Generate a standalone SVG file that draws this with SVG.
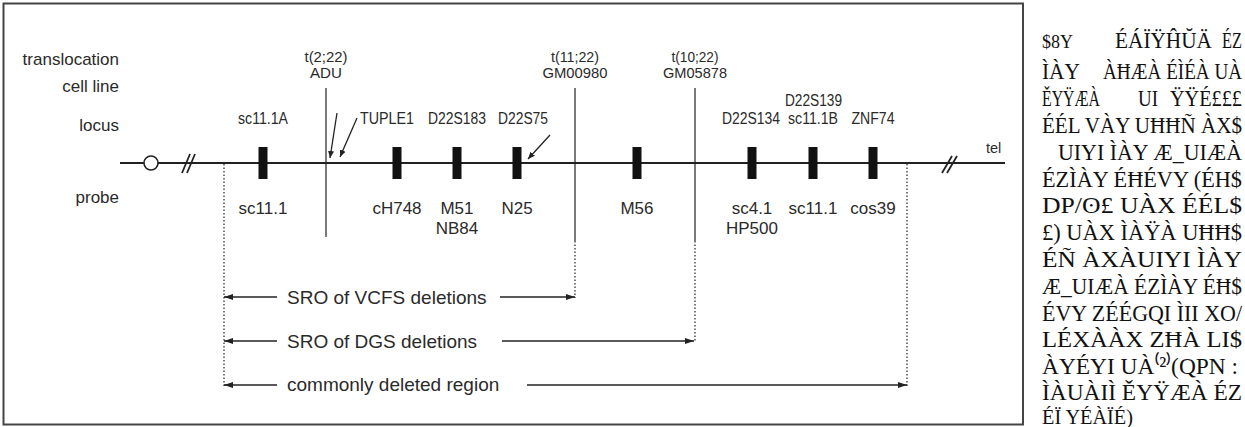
<svg xmlns="http://www.w3.org/2000/svg" width="1245" height="427" viewBox="0 0 1245 427">
<style>
text{font-family:"Liberation Sans",Arial,sans-serif;fill:#2a2a2a}
.lab{font-size:17px;text-anchor:end}
.tr{font-size:15.5px;text-anchor:middle}
.loc{font-size:16px;text-anchor:middle}
.prb{font-size:17px;text-anchor:middle}
.big{font-size:19px}
.garb text{font-family:"Liberation Serif","Times New Roman",serif;font-size:24px;fill:#111}
.ln{stroke:#222;fill:none}
.bar{fill:#111}
.dot{stroke:#333;stroke-width:1.3;stroke-dasharray:1.5 2;fill:none}
</style>
<defs>
<marker id="ah" markerWidth="10" markerHeight="8" refX="9" refY="4" orient="auto" markerUnits="userSpaceOnUse">
<path d="M0,1 L9,4 L0,7 Z" fill="#222"/>
</marker>
<marker id="sa" markerWidth="8" markerHeight="8" refX="7" refY="4" orient="auto" markerUnits="userSpaceOnUse">
<path d="M0,1 L7,4 L0,7 Z" fill="#222"/>
</marker>
</defs>
<rect x="0" y="0" width="1245" height="427" fill="#fff"/>
<rect id="frame" x="3.5" y="3.5" width="1019.5" height="421" fill="none" stroke="#444" stroke-width="2"/>

<g id="row-labels">
<text class="lab" x="119" y="65">translocation</text>
<text class="lab" x="119" y="92">cell  line</text>
<text class="lab" x="119" y="131">locus</text>
<text class="lab" x="119" y="203">probe</text>
</g>

<g id="chromosome">
<line class="ln" x1="120" y1="163" x2="1005" y2="163" stroke-width="2"/>
<circle cx="151" cy="163" r="7" fill="#fff" stroke="#222" stroke-width="1.6"/>
<line class="ln" x1="182" y1="173" x2="190" y2="154" stroke-width="1.8"/>
<line class="ln" x1="187" y1="173" x2="195" y2="154" stroke-width="1.8"/>
<line class="ln" x1="942" y1="173" x2="952" y2="156" stroke-width="1.8"/>
<line class="ln" x1="947" y1="173" x2="957" y2="156" stroke-width="1.8"/>
<text x="986" y="153" style="font-size:14.5px">tel</text>
</g>

<g id="t2-22">
<text class="tr" x="326" y="62" textLength="43" lengthAdjust="spacingAndGlyphs">t(2;22)</text>
<text class="tr" x="326" y="78" textLength="32" lengthAdjust="spacingAndGlyphs">ADU</text>
<line class="ln" x1="326" y1="88" x2="326" y2="237" stroke-width="1.2"/>
</g>
<g id="t11-22">
<text class="tr" x="575" y="62" textLength="48" lengthAdjust="spacingAndGlyphs">t(11;22)</text>
<text class="tr" x="575" y="78" textLength="65" lengthAdjust="spacingAndGlyphs">GM00980</text>
<line class="ln" x1="575" y1="88" x2="575" y2="241" stroke-width="1.2"/>
</g>
<g id="t10-22">
<text class="tr" x="695" y="62" textLength="47" lengthAdjust="spacingAndGlyphs">t(10;22)</text>
<text class="tr" x="695" y="78" textLength="64" lengthAdjust="spacingAndGlyphs">GM05878</text>
<line class="ln" x1="695" y1="88" x2="695" y2="241" stroke-width="1.2"/>
</g>

<g id="m-sc11-1A">
<text class="loc" x="263" y="124" textLength="50" lengthAdjust="spacingAndGlyphs">sc11.1A</text>
<rect class="bar" x="258.5" y="147" width="9" height="32"/>
<text class="prb" x="263" y="214">sc11.1</text>
</g>
<g id="m-TUPLE1">
<text class="loc" x="360" y="124" style="text-anchor:start" textLength="54" lengthAdjust="spacingAndGlyphs">TUPLE1</text>
</g>
<g id="m-cH748">
<rect class="bar" x="392.5" y="147" width="9" height="32"/>
<text class="prb" x="397" y="214">cH748</text>
</g>
<g id="m-D22S183">
<text class="loc" x="428" y="124" style="text-anchor:start" textLength="58" lengthAdjust="spacingAndGlyphs">D22S183</text>
<rect class="bar" x="452.5" y="147" width="9" height="32"/>
<text class="prb" x="457" y="214">M51</text>
<text class="prb" x="457" y="234">NB84</text>
</g>
<g id="m-D22S75">
<text class="loc" x="498" y="124" style="text-anchor:start" textLength="50" lengthAdjust="spacingAndGlyphs">D22S75</text>
<rect class="bar" x="512.5" y="147" width="9" height="32"/>
<text class="prb" x="517" y="214">N25</text>
</g>
<g id="m-M56">
<rect class="bar" x="632.5" y="147" width="9" height="32"/>
<text class="prb" x="637" y="214">M56</text>
</g>
<g id="m-D22S134">
<text class="loc" x="722" y="124" style="text-anchor:start" textLength="58" lengthAdjust="spacingAndGlyphs">D22S134</text>
<rect class="bar" x="747.5" y="147" width="9" height="32"/>
<text class="prb" x="752" y="214">sc4.1</text>
<text class="prb" x="752" y="234">HP500</text>
</g>
<g id="m-sc11-1B">
<text class="loc" x="785" y="106" style="text-anchor:start" textLength="57" lengthAdjust="spacingAndGlyphs">D22S139</text>
<text class="loc" x="788" y="124" style="text-anchor:start" textLength="50" lengthAdjust="spacingAndGlyphs">sc11.1B</text>
<rect class="bar" x="808.5" y="147" width="9" height="32"/>
<text class="prb" x="813" y="214">sc11.1</text>
</g>
<g id="m-ZNF74">
<text class="loc" x="873" y="124" textLength="43" lengthAdjust="spacingAndGlyphs">ZNF74</text>
<rect class="bar" x="868.5" y="147" width="9" height="32"/>
<text class="prb" x="873" y="214">cos39</text>
</g>

<g id="connectors">
<line class="ln" x1="337" y1="113" x2="330" y2="158" stroke-width="1.3" marker-end="url(#sa)"/>
<line class="ln" x1="357" y1="118" x2="340" y2="157" stroke-width="1.3" marker-end="url(#sa)"/>
<line class="ln" x1="550" y1="135" x2="528" y2="159" stroke-width="1.3" marker-end="url(#sa)"/>
<line class="dot" x1="224" y1="164" x2="224" y2="386"/>
<line class="dot" x1="907" y1="164" x2="907" y2="386"/>
<line class="dot" x1="575" y1="241" x2="575" y2="298"/>
<line class="dot" x1="695" y1="241" x2="695" y2="341"/>
<line class="ln" x1="277" y1="297" x2="224" y2="297" stroke-width="1.4" marker-end="url(#ah)"/>
<line class="ln" x1="500" y1="297" x2="575" y2="297" stroke-width="1.4" marker-end="url(#ah)"/>
<line class="ln" x1="277" y1="341" x2="224" y2="341" stroke-width="1.4" marker-end="url(#ah)"/>
<line class="ln" x1="502" y1="341" x2="694" y2="341" stroke-width="1.4" marker-end="url(#ah)"/>
<line class="ln" x1="277" y1="385" x2="224" y2="385" stroke-width="1.4" marker-end="url(#ah)"/>
<line class="ln" x1="527" y1="385" x2="907" y2="385" stroke-width="1.4" marker-end="url(#ah)"/>
</g>

<g id="regions">
<text class="big" x="287" y="304">SRO of VCFS deletions</text>
<text class="big" x="287" y="348">SRO of DGS deletions</text>
<text class="big" x="287" y="391">commonly deleted region</text>
</g>

<g id="side-text" class="garb">
<text x="1042" y="48" style="font-size:18px">$8Y</text>
<text x="1115" y="48" textLength="97" lengthAdjust="spacingAndGlyphs">ÉÁÏŸĤŬÄ</text>
<text x="1222" y="48" textLength="20" lengthAdjust="spacingAndGlyphs">ÉZ</text>
<text x="1042" y="79" textLength="38" lengthAdjust="spacingAndGlyphs">ÌÀY</text>
<text x="1103" y="79" textLength="139" lengthAdjust="spacingAndGlyphs">ÀĦÆÀ ÉÌÉÀ UÀ</text>
<text x="1042" y="106" textLength="58" lengthAdjust="spacingAndGlyphs">ĚYŸÆÀ</text>
<text x="1138" y="106" textLength="20" lengthAdjust="spacingAndGlyphs">UI</text>
<text x="1170" y="106" textLength="72" lengthAdjust="spacingAndGlyphs">ŸŸÉ£££</text>
<text x="1042" y="133" textLength="200" lengthAdjust="spacingAndGlyphs">ÉÉL VÀY UĦĦÑ ÀX$</text>
<text x="1058" y="160" textLength="184" lengthAdjust="spacingAndGlyphs">UIYI ÌÀY Æ_UIÆÀ</text>
<text x="1042" y="187" textLength="200" lengthAdjust="spacingAndGlyphs">ÉZÌÀY ÉĦÉVY (ÉH$</text>
<text x="1042" y="213" textLength="200" lengthAdjust="spacingAndGlyphs">DP/ʘ£  UÀX  ÉÉL$</text>
<text x="1042" y="240" textLength="200" lengthAdjust="spacingAndGlyphs">£) UÀX ÌÀŸÀ UĦĦ$</text>
<text x="1042" y="267" textLength="200" lengthAdjust="spacingAndGlyphs">ÉÑ  ÀXÀUIYI ÌÀY</text>
<text x="1042" y="294" textLength="200" lengthAdjust="spacingAndGlyphs">Æ_UIÆÀ ÉZÌÀY ÉĦ$</text>
<text x="1042" y="321" textLength="200" lengthAdjust="spacingAndGlyphs">ÉVY ZÉÉGQI ÌII XO/</text>
<text x="1042" y="347" textLength="200" lengthAdjust="spacingAndGlyphs">LÉXÀÀX ZĦÀ LI$</text>
<text x="1042" y="374" textLength="196" lengthAdjust="spacingAndGlyphs">ÀYÉYI UÀ⁽²⁾(QPN :</text>
<text x="1042" y="400" textLength="200" lengthAdjust="spacingAndGlyphs">ÌÀUÀIÌ ĚYŸÆÀ ÉZ</text>
<text x="1042" y="424" textLength="91" lengthAdjust="spacingAndGlyphs" style="font-size:21px">ÉÏ YÉÀÏÉ)</text>
</g>
</svg>
